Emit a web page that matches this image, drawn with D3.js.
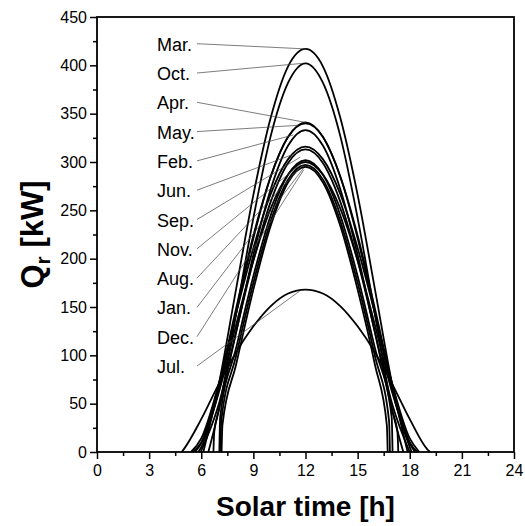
<!DOCTYPE html>
<html>
<head>
<meta charset="utf-8">
<script src="https://cdn.jsdelivr.net/npm/d3@7"></script>
<style>
    body { margin: 0; background: white; }
    svg { display: block; font-family: Arial, 'Liberation Sans', sans-serif; }
</style>
</head>
<body>
<svg id="chart" width="525" height="526"></svg>
<script>
// hourly samples, solar time 5 .. 19 h
const hours = [5, 6, 7, 8, 9, 10, 11, 12, 13, 14, 15, 16, 17, 18, 19];

const months = ['Mar.', 'Oct.', 'Apr.', 'May.', 'Feb.', 'Jun.', 'Sep.', 'Nov.', 'Aug.', 'Jan.', 'Dec.', 'Jul.'];

// Qr [kW] at each hour
const qMar = [0, 0, 69, 168, 266, 346, 399, 417, 399, 346, 266, 168, 69, 0, 0];
const qOct = [0, 0, 43, 142, 242, 327, 382, 402, 382, 327, 242, 142, 43, 0, 0];
const qApr = [0, 5, 63, 143, 221, 285, 326, 341, 326, 285, 221, 143, 63, 5, 0];
const qMay = [0, 10, 69, 148, 224, 285, 326, 340, 326, 285, 224, 148, 69, 10, 0];
const qFeb = [0, 0, 42, 123, 204, 272, 317, 333, 317, 272, 204, 123, 42, 0, 0];
const qJun = [0, 14, 70, 143, 211, 267, 303, 316, 303, 267, 211, 143, 70, 14, 0];
const qSep = [0, 0, 49, 124, 198, 259, 299, 313, 299, 259, 198, 124, 49, 0, 0];
const qNov = [0, 0, 0, 107, 182, 245, 287, 302, 287, 245, 182, 107, 0, 0, 0];
const qAug = [0, 9, 61, 131, 198, 252, 287, 300, 287, 252, 198, 131, 61, 9, 0];
const qJan = [0, 0, 0, 99, 175, 239, 282, 297, 282, 239, 175, 99, 0, 0, 0];
const qDec = [0, 0, 0, 90, 168, 234, 279, 295, 279, 234, 168, 90, 0, 0, 0];
const qJul = [3, 34, 70, 103, 130, 151, 164, 168, 164, 151, 130, 103, 70, 34, 3];

// sunrise / sunset [h] and the value right after switch-on
const sunrise = [6.12, 6.41, 5.83, 5.5, 6.7, 5.41, 5.97, 7.04, 5.64, 7.1, 7.17, 4.87];
const sunset = [17.88, 17.63, 18.11, 18.44, 17.34, 18.55, 18.0, 17.01, 18.3, 16.86, 16.73, 19.17];
const switchOn = [0, 0, 0, 0, 21, 0, 0, 36, 0, 32, 28, 0];

// where each label's leader line points to
const leaderT = [12.0, 11.8, 12.0, 11.6, 11.3, 11.6, 11.7, 11.8, 11.8, 11.9, 11.9, 11.7];
const leaderQ = [417, 402, 341, 338, 328, 310, 305, 299, 296, 294, 292, 167];

const series = [qMar, qOct, qApr, qMay, qFeb, qJun, qSep, qNov, qAug, qJan, qDec, qJul];

const xTicks = [0, 3, 6, 9, 12, 15, 18, 21, 24];
const yTicks = [0, 50, 100, 150, 200, 250, 300, 350, 400, 450];

const margin = { top: 17, right: 11, bottom: 74, left: 97 };
const width = 525 - margin.left - margin.right;
const height = 526 - margin.top - margin.bottom;

const svg = d3.select('#chart');
const g = svg.append('g').attr('transform', `translate(${margin.left},${margin.top})`);

const x = d3.scaleLinear().domain([0, 24]).range([0, width]);
const y = d3.scaleLinear().domain([0, 450]).range([height, 0]);

// minor ticks first, majors over them
g.append('g')
    .attr('transform', `translate(0,${height})`)
    .call(d3.axisBottom(x).tickValues(d3.range(1.5, 24, 3)).tickSize(4).tickFormat(''))
    .call((a) => a.select('.domain').remove());
g.append('g')
    .call(d3.axisLeft(y).tickValues(d3.range(25, 450, 50)).tickSize(4).tickFormat(''))
    .call((a) => a.select('.domain').remove());

const xAxis = g.append('g')
    .attr('transform', `translate(0,${height})`)
    .call(d3.axisBottom(x).tickValues(xTicks).tickSize(7).tickPadding(6));
const yAxis = g.append('g')
    .call(d3.axisLeft(y).tickValues(yTicks).tickSize(7).tickPadding(3));

[xAxis, yAxis].forEach(function (a) {
    a.select('.domain').remove();
    a.selectAll('text').style('font-size', '16px').style('font-family', 'Arial, Liberation Sans, sans-serif').attr('fill', '#000');
});
g.selectAll('.tick line').attr('stroke', '#000').attr('stroke-width', 1.5);

const line = d3.line()
    .x(function (d) { return x(d[0]); })
    .y(function (d) { return y(d[1]); })
    .curve(d3.curveMonotoneX);

function monthPoints(i) {
    const pts = [[sunrise[i], 0]];
    if (switchOn[i] > 0) pts.push([sunrise[i] + 0.05, switchOn[i]]);
    hours.forEach(function (h, k) {
        if (h > sunrise[i] && h < sunset[i] && series[i][k] > 0) pts.push([h, series[i][k]]);
    });
    if (switchOn[i] > 0) pts.push([sunset[i] - 0.05, switchOn[i]]);
    pts.push([sunset[i], 0]);
    return pts;
}

g.selectAll('path.month')
    .data(months)
    .enter()
    .append('path')
    .attr('class', 'month')
    .attr('d', function (d, i) { return line(monthPoints(i)); })
    .attr('fill', 'none')
    .attr('stroke', '#000')
    .attr('stroke-width', 1.8);

// labels + leader lines
const labelX = 157 - margin.left;
const labelY0 = 50.7 - margin.top;
const labelStep = 29.3;

g.selectAll('line.leader')
    .data(months)
    .enter()
    .append('line')
    .attr('class', 'leader')
    .attr('x1', labelX + 40)
    .attr('y1', function (d, i) { return labelY0 + i * labelStep - 7; })
    .attr('x2', function (d, i) { return x(leaderT[i]); })
    .attr('y2', function (d, i) { return y(leaderQ[i]); })
    .attr('stroke', '#444')
    .attr('stroke-width', 0.7);

g.selectAll('text.mlabel')
    .data(months)
    .enter()
    .append('text')
    .attr('class', 'mlabel')
    .attr('x', labelX)
    .attr('y', function (d, i) { return labelY0 + i * labelStep; })
    .style('font-size', '18px')
    .text(function (d) { return d; });

// frame
g.append('rect')
    .attr('width', width)
    .attr('height', height)
    .attr('fill', 'none')
    .attr('stroke', '#000')
    .attr('stroke-width', 1.8);

svg.append('text')
    .attr('x', margin.left + width / 2)
    .attr('y', 516)
    .attr('text-anchor', 'middle')
    .style('font-size', '28px')
    .style('font-weight', 'bold')
    .text('Solar time [h]');

const yTitle = svg.append('text')
    .attr('transform', `translate(43,${margin.top + height / 2}) rotate(-90)`)
    .attr('text-anchor', 'middle')
    .style('font-size', '31px')
    .style('font-weight', 'bold');
yTitle.append('tspan').text('Q');
yTitle.append('tspan').attr('dy', 7).style('font-size', '21px').text('r');
yTitle.append('tspan').attr('dy', -7).text(' [kW]');
</script>
</body>
</html>
